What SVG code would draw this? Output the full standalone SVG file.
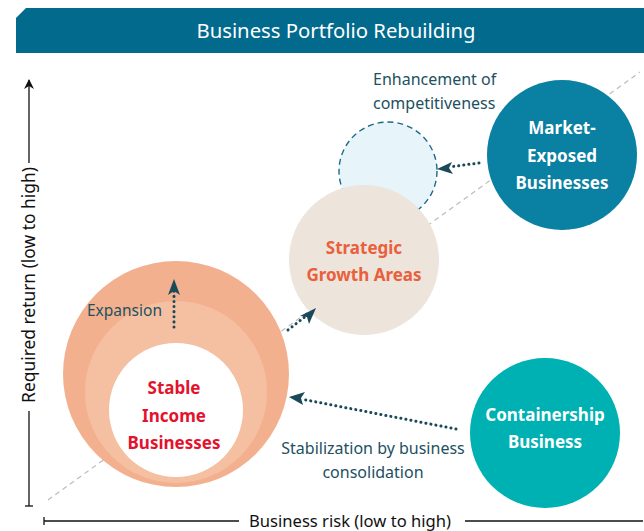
<svg xmlns="http://www.w3.org/2000/svg" width="644" height="531" viewBox="0 0 644 531">
<style>
.lbl{font-family:"Noto Sans",Lato,sans-serif;font-size:16px;fill:#22505f}
.nd{font-family:"Noto Sans",Lato,sans-serif;font-size:17px;font-weight:bold;text-anchor:middle}
.ax{font-family:"Noto Sans",Lato,sans-serif;font-size:16.6px;fill:#111}
.dot{fill:none;stroke:#1a4a5a;stroke-width:3;stroke-dasharray:0.1 5;stroke-linecap:round}
.axl{stroke:#111;stroke-width:1.3;fill:none}
</style>
<defs>
<marker id="ahb" viewBox="0 0 10 10" refX="9" refY="5" markerWidth="10" markerHeight="10" orient="auto" markerUnits="userSpaceOnUse">
<path d="M0,0 L10,5 L0,10 L3,5 z" fill="#111"/>
</marker>
</defs>
<rect width="644" height="531" fill="#fff"/>
<g id="banner">
<path d="M26,8 L644,8 L644,53 L16,53 L16,18 z" fill="#016a8d"/>
<text x="336" y="38" text-anchor="middle" style="font-family:'Noto Sans',Lato,sans-serif;font-size:20.3px;fill:#fff">Business Portfolio Rebuilding</text>
</g>
<g id="axes">
<line class="axl" x1="29" y1="163" x2="29" y2="80" marker-end="url(#ahb)"/>
<line class="axl" x1="29" y1="411" x2="29" y2="506"/>
<line class="axl" x1="25" y1="506" x2="33" y2="506"/>
<text class="ax" transform="translate(35,285) rotate(-90)" text-anchor="middle" style="font-size:17.4px">Required return (low to high)</text>
<line class="axl" x1="44" y1="521" x2="239" y2="521"/>
<line class="axl" x1="44" y1="517" x2="44" y2="525"/>
<line class="axl" x1="465" y1="521" x2="643" y2="521"/>
<text class="ax" x="350" y="527" text-anchor="middle">Business risk (low to high)</text>
<line x1="48" y1="500" x2="640" y2="72" stroke="#bbb" stroke-width="1.2" stroke-dasharray="5 4"/>
</g>
<g id="stable">
<circle cx="176" cy="374" r="113" fill="#f3b08f"/>
<circle cx="176" cy="392" r="91" fill="#f5bfa1"/>
<circle cx="176" cy="410" r="67" fill="#fff"/>
<text class="nd" fill="#e3122d"><tspan x="174" y="394">Stable</tspan><tspan x="174" y="422">Income</tspan><tspan x="174" y="449">Businesses</tspan></text>
</g>
<g id="target">
<circle cx="388" cy="171" r="49" fill="#e7f4fa" stroke="#1c6a8a" stroke-width="1.4" stroke-dasharray="6 4"/>
</g>
<g id="strategic">
<circle cx="364" cy="260" r="75" fill="#ede4dc"/>
<text class="nd" fill="#e8603c"><tspan x="364" y="254">Strategic</tspan><tspan x="364" y="281">Growth Areas</tspan></text>
</g>
<g id="market">
<circle cx="562" cy="155" r="75" fill="#0a80a2"/>
<text class="nd" fill="#fff"><tspan x="562" y="134">Market-</tspan><tspan x="562" y="162">Exposed</tspan><tspan x="562" y="189">Businesses</tspan></text>
</g>
<g id="containership">
<circle cx="545" cy="433" r="75" fill="#00b1b3"/>
<text class="nd" fill="#fff"><tspan x="545" y="421">Containership</tspan><tspan x="545" y="448">Business</tspan></text>
</g>
<g id="connectors">
<line class="dot" x1="174" y1="327" x2="174" y2="290"/>
<path d="M174,279 L180,295 L174,291 L168,295 z" fill="#1a4a5a"/>
<line class="dot" x1="288" y1="330" x2="306" y2="316"/>
<path d="M316,308 L309,324 L307,317 L300,316 z" fill="#1a4a5a"/>
<line class="dot" x1="479" y1="163" x2="449" y2="167"/>
<path d="M437,169 L452,162 L449,168 L453,174 z" fill="#1a4a5a"/>
<line class="dot" x1="456" y1="429" x2="301" y2="399"/>
<path d="M289,397 L305,392 L301,398 L303,405 z" fill="#1a4a5a"/>
</g>
<g id="labels">
<text class="lbl" x="373" y="85">Enhancement of</text>
<text class="lbl" x="373" y="109">competitiveness</text>
<text class="lbl" x="87" y="316" style="font-size:15.5px">Expansion</text>
<text class="lbl" x="373" y="454" text-anchor="middle">Stabilization by business</text>
<text class="lbl" x="373" y="478" text-anchor="middle">consolidation</text>
</g>
</svg>
